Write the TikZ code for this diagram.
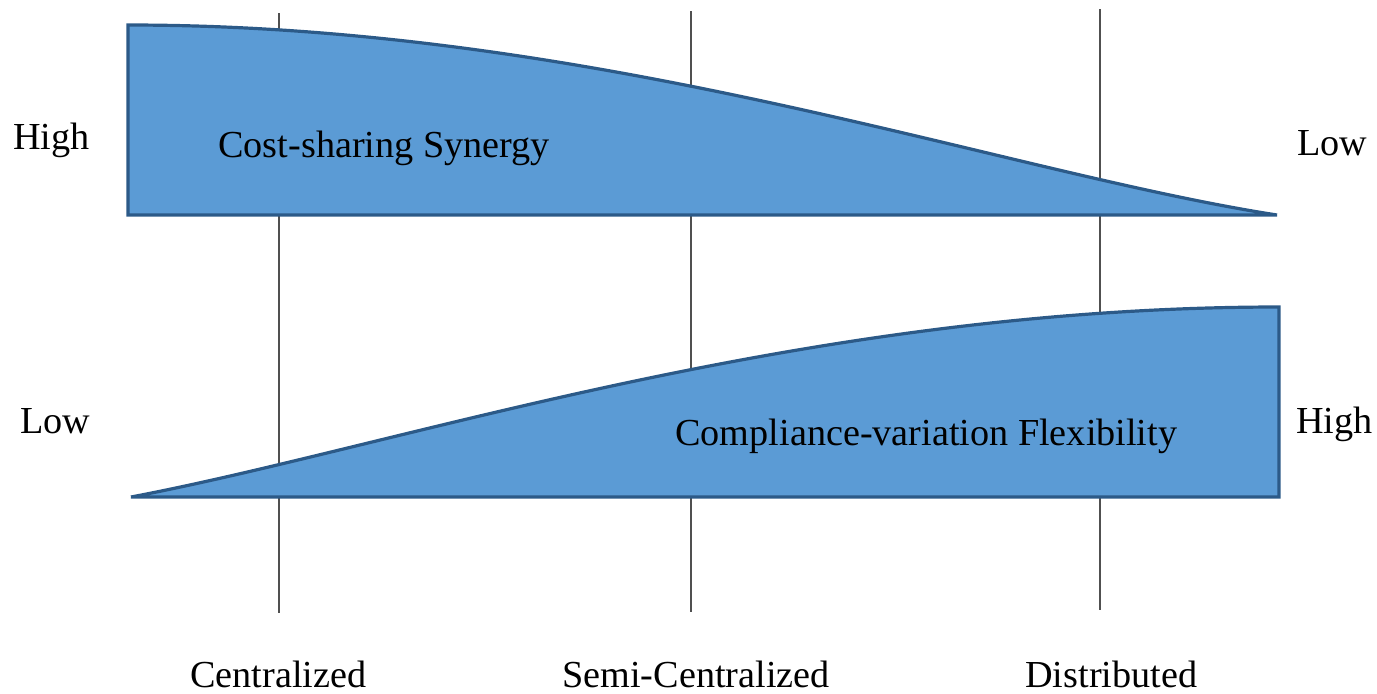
\documentclass[tikz,border=0pt]{standalone}
\usepackage{fontspec}
\setmainfont{Liberation Serif}
\definecolor{bandfill}{HTML}{5B9BD5}
\definecolor{bandline}{HTML}{2C5A88}
\definecolor{axisgray}{HTML}{505050}
\begin{document}
\begin{tikzpicture}[x=0.5pt,y=-0.5pt,
  lbl/.style={anchor=base west,inner sep=0pt,font=\fontsize{19.1}{23}\selectfont},
  band/.style={fill=bandfill,draw=bandline,line width=1.6pt,line join=miter},
  guide/.style={draw=axisgray,line width=1pt}]
\useasboundingbox (0,0) rectangle (1377,693);
% vertical guide lines
\coordinate (c1t) at (279,13); \coordinate (c1b) at (279,613);
\coordinate (c2t) at (691,11); \coordinate (c2b) at (691,612);
\coordinate (c3t) at (1100,9); \coordinate (c3b) at (1100,610);
\draw[guide] (c1t) -- (c1b);
\draw[guide] (c2t) -- (c2b);
\draw[guide] (c3t) -- (c3b);
% top band
\path[band] (128,25) .. controls (600,25) and (1000,172) .. (1277,215) -- (128,215) -- cycle;
% bottom band
\path[band] (131,497) .. controls (400,446) and (800,307) .. (1279,307) -- (1279,497) -- cycle;
% labels
\node[lbl] (hl) at (13,149) {High};
\node[lbl] (cs) at (218,157) {Cost-sharing Synergy};
\node[lbl] (lr) at (1297,155) {Low};
\node[lbl] (ll) at (20,433) {Low};
\node[lbl] (cv) at (675,445) {Compliance-variation Flexibility};
\node[lbl] (hr) at (1296,433) {High};
\node[lbl] (ce) at (190,687) {Centralized};
\node[lbl] (sc) at (562,687) {Semi-Centralized};
\node[lbl] (di) at (1025,687) {Distributed};
\end{tikzpicture}
\end{document}
